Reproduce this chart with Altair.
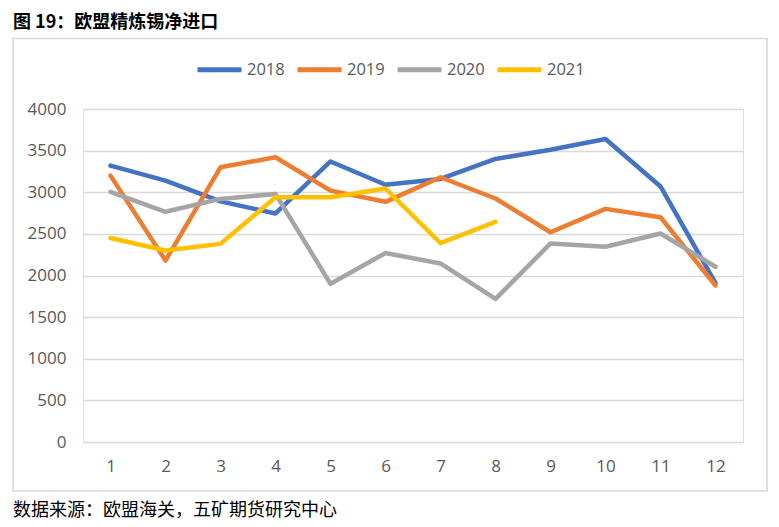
import altair as alt
import pandas as pd

months = [1, 2, 3, 4, 5, 6, 7, 8, 9, 10, 11, 12]
v2018 = [3320, 3140, 2890, 2745, 3370, 3090, 3160, 3400, 3510, 3640, 3070, 1910]
v2019 = [3200, 2180, 3300, 3420, 3020, 2885, 3180, 2925, 2520, 2800, 2700, 1880]
v2020 = [3005, 2765, 2920, 2980, 1900, 2270, 2145, 1720, 2385, 2345, 2505, 2105]
v2021 = [2450, 2300, 2380, 2940, 2940, 3045, 2390, 2645]
years = ["2018", "2019", "2020", "2021"]
colors = ["#4472C4", "#ED7D31", "#A5A5A5", "#FFC000"]
y_ticks = [0, 500, 1000, 1500, 2000, 2500, 3000, 3500, 4000]
title_text = "图 19：欧盟精炼锡净进口"
source_text = "数据来源：欧盟海关，五矿期货研究中心"

rows = []
for yr, vals in zip(years, [v2018, v2019, v2020, v2021]):
    for m, v in zip(months, vals):
        rows.append({"month": m, "year": yr, "value": v})
df = pd.DataFrame(rows)

W, H = 660, 333
FONT = "Open Sans"
CJK = "Noto Sans CJK SC"

lines = alt.Chart(df).mark_line(strokeWidth=4.5, strokeCap="round", strokeJoin="round").encode(
    x=alt.X("month:O", sort=months,
            scale=alt.Scale(padding=0.5),
            axis=alt.Axis(title=None, labelAngle=0, ticks=False, domain=False, grid=False,
                          labelFont=FONT, labelFontSize=17, labelColor="#595959",
                          labelPadding=16)),
    y=alt.Y("value:Q", scale=alt.Scale(domain=[0, 4000], nice=False),
            axis=alt.Axis(title=None, values=y_ticks, format="d", ticks=False, domain=False,
                          grid=True, gridColor="#d9d9d9", gridWidth=1.3,
                          labelFont=FONT, labelFontSize=17, labelColor="#595959",
                          labelPadding=17)),
    color=alt.Color("year:N", scale=alt.Scale(domain=years, range=colors),
                    legend=alt.Legend(title=None, orient="none", direction="horizontal",
                                      legendX=112, legendY=-64,
                                      symbolType="stroke", symbolSize=1936,
                                      symbolStrokeWidth=5, labelOffset=3,
                                      columnPadding=2,
                                      labelFont=FONT, labelFontSize=16.5,
                                      labelColor="#595959")),
    order="month:O",
)

one = pd.DataFrame({"a": [0]})
frame = alt.Chart(one).mark_rect(filled=False, stroke="#d9d9d9", strokeWidth=1.6).encode(
    x=alt.value(-70), x2=alt.value(684), y=alt.value(-70.5), y2=alt.value(382)
)
title = alt.Chart(one).mark_text(text=title_text, font=CJK, fontSize=18, fontWeight="bold",
                                 color="#000000", align="left", baseline="middle").encode(
    x=alt.value(-70), y=alt.value(-86)
)
source = alt.Chart(one).mark_text(text=source_text, font=CJK, fontSize=18,
                                  color="#000000", align="left", baseline="middle").encode(
    x=alt.value(-70), y=alt.value(401.5)
)

chart = alt.layer(frame, lines, title, source).properties(
    width=W, height=H,
    autosize=alt.AutoSizeParams(type="none"),
    padding={"left": 75, "top": 101, "right": 28, "bottom": 77},
).configure_view(stroke=None).configure(background="white")

chart.save("out.html", embed_options={"renderer": "svg", "actions": False})
